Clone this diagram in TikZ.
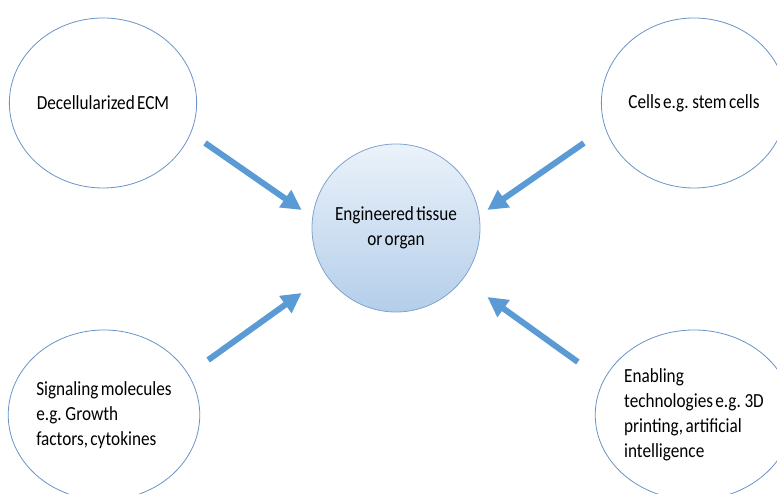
\documentclass[tikz,border=0pt]{standalone}
\usepackage{fontspec}
\setmainfont{Carlito}[FakeStretch=0.86,WordSpace=0.6]
\usepackage{tikz}
\usetikzlibrary{shapes.geometric,arrows.meta}
\definecolor{rimblue}{HTML}{6A93C6}
\definecolor{arrowblue}{HTML}{5B9BD5}
\definecolor{topblue}{HTML}{EBF2FA}
\definecolor{botblue}{HTML}{B4CEEA}
\tikzset{
  part/.style={ellipse, draw=rimblue, line width=0.8pt, minimum width=184pt, minimum height=170pt, inner sep=0pt, font=\fontsize{20}{25}\selectfont, align=left},
  goal/.style={circle, draw=rimblue!85, line width=0.8pt, minimum size=168pt, inner sep=0pt, top color=topblue, bottom color=botblue, font=\fontsize{20}{25}\selectfont, align=center},
  feed/.style={arrowblue, line width=6pt, -{Triangle[length=20pt,width=20pt]}}
}
\begin{document}
\begin{tikzpicture}[x=1pt,y=1pt]
\useasboundingbox (0,0) rectangle (777,494);
\clip (0,0) rectangle (777,494);
\node[part] (ecm) at (103,391) {Decellularized ECM};
\node[part] (cells) at (694,391) {Cells e.g. stem cells};
\node[part] (signal) at (104,79) {Signaling molecules\\e.g. Growth\\factors, cytokines};
\node[part] (enable) at (694,79) {Enabling\\technologies e.g. 3D\\printing, artificial\\intelligence};
\node[goal] (tissue) at (396,266) {Engineered tissue\\or organ};
\draw[feed] ([shift={(8,-40)}]ecm.east) -- ([shift={(-10,18)}]tissue.west);
\draw[feed] ([shift={(8,55)}]signal.east) -- ([shift={(-10,-65)}]tissue.west);
\draw[feed] ([shift={(-17,-40)}]cells.west) -- ([shift={(7,18)}]tissue.east);
\draw[feed] ([shift={(-17,53)}]enable.west) -- ([shift={(7,-69)}]tissue.east);
\end{tikzpicture}
\end{document}
